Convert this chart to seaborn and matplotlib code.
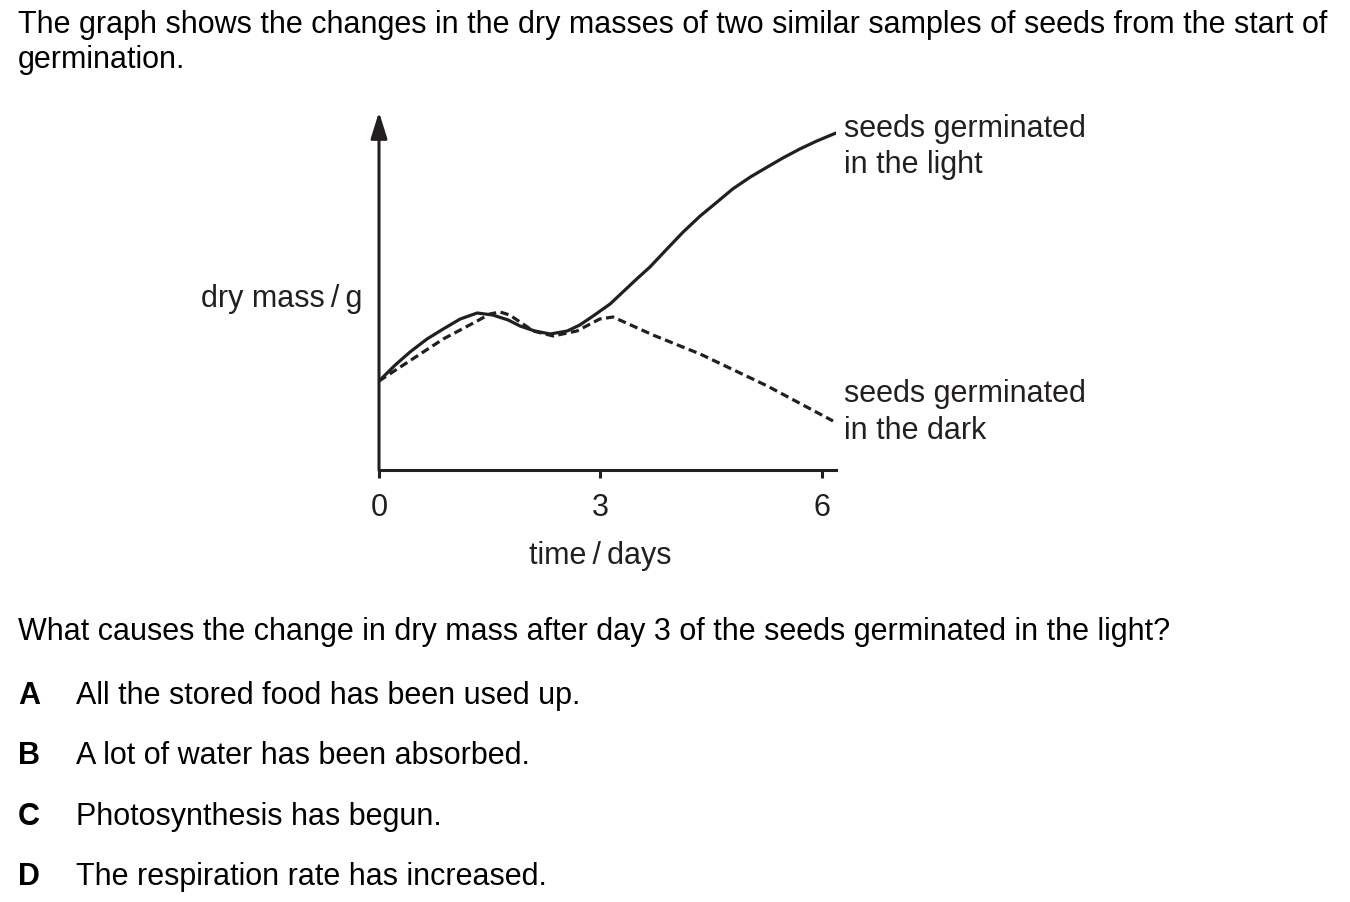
import pandas as pd
import matplotlib
matplotlib.use('Agg')
import matplotlib.pyplot as plt
import seaborn as sns

# Values (time in days, dry mass in arbitrary units)
light_days = [0, 0.22, 0.42, 0.65, 0.87, 1.10, 1.33, 1.54, 1.75, 1.91, 2.11, 2.32, 2.55,
              2.72, 2.90, 3.13, 3.49, 3.67, 3.90, 4.12, 4.35, 4.58, 4.79, 5.03, 5.26,
              5.47, 5.70, 5.93, 6.19]
light_mass = [8.9, 10.5, 11.8, 13.1, 14.1, 15.1, 15.7, 15.5, 15.0, 14.4, 13.9, 13.6, 13.9,
              14.5, 15.4, 16.6, 19.1, 20.3, 22.1, 23.8, 25.4, 26.8, 28.1, 29.3, 30.3,
              31.2, 32.1, 32.9, 33.7]

dark_days = [0, 0.33, 0.87, 1.33, 1.50, 1.64, 1.77, 1.91, 2.09, 2.36, 2.68, 2.99, 3.17,
             3.44, 3.71, 4.35, 5.26, 6.15]
dark_mass = [8.9, 10.5, 13.1, 14.9, 15.6, 15.8, 15.5, 14.8, 13.9, 13.4, 13.9, 15.1, 15.3,
             14.4, 13.5, 11.6, 8.4, 4.9]

x_ticks = [0, 3, 6]
x_tick_labels = ['0', '3', '6']

intro = ['The graph shows the changes in the dry masses of two similar samples of seeds from the start of',
         'germination.']
question = 'What causes the change in dry mass after day 3 of the seeds germinated in the light?'
option_letters = ['A', 'B', 'C', 'D']
option_texts = ['All the stored food has been used up.',
                'A lot of water has been absorbed.',
                'Photosynthesis has begun.',
                'The respiration rate has increased.']

light_df = pd.DataFrame({'day': light_days, 'mass': light_mass})
dark_df = pd.DataFrame({'day': dark_days, 'mass': dark_mass})

sns.set_style('white')
plt.rcParams['font.family'] = ['Liberation Sans', 'DejaVu Sans']

W, H = 1350, 903
ink = '#231f20'
fs = 22

fig = plt.figure(figsize=(13.5, 9.03), dpi=100)

def fx(px):
    return px / W

def fy(py):
    return 1 - py / H

# axes placed so that day 0 -> x=379 px, axis line ends at 836 px
ax = fig.add_axes([fx(379), fy(471), (836 - 379) / W, (471 - 113) / H])
ax.set_xlim(0, 6.19)
ax.set_ylim(0, 35.8)

sns.lineplot(data=light_df, x='day', y='mass', ax=ax, color=ink, lw=2.3, sort=False)
sns.lineplot(data=dark_df, x='day', y='mass', ax=ax, color=ink, lw=2.3, sort=False,
             linestyle=(0, (2.6, 1.4)))

for s in ['top', 'right', 'left']:
    ax.spines[s].set_visible(False)
ax.spines['bottom'].set_linewidth(2.2)
ax.spines['bottom'].set_color(ink)

ax.set_xticks(x_ticks)
ax.set_xticklabels(x_tick_labels, fontsize=fs, color=ink)
ax.set_yticks([])
ax.tick_params(axis='x', direction='out', length=6, width=2.2, color=ink, pad=10, bottom=True)
ax.set_xlabel('')
ax.set_ylabel('')

# y axis with arrow head
ax.annotate('', xy=(0, 35.8), xytext=(0, 0), xycoords='data',
            arrowprops=dict(arrowstyle='-|>,head_length=0.8,head_width=0.25', mutation_scale=20,
                            lw=2.2, color=ink, shrinkA=0, shrinkB=0),
            annotation_clip=False)

# texts
for i, line in enumerate(intro):
    fig.text(fx(18), fy(33 + 35 * i), line, fontsize=fs, color='black', va='baseline')

fig.text(fx(844), fy(137), 'seeds germinated', fontsize=fs, color=ink, va='baseline')
fig.text(fx(844), fy(173), 'in the light', fontsize=fs, color=ink, va='baseline')
fig.text(fx(844), fy(402), 'seeds germinated', fontsize=fs, color=ink, va='baseline')
fig.text(fx(844), fy(439), 'in the dark', fontsize=fs, color=ink, va='baseline')
fig.text(fx(362), fy(307), 'dry mass\u2009/\u2009g', fontsize=fs, color=ink, va='baseline', ha='right')
fig.text(fx(600), fy(564), 'time\u2009/\u2009days', fontsize=fs, color=ink, va='baseline', ha='center')

fig.text(fx(18), fy(640), question, fontsize=fs, color='black', va='baseline')
for i, (letter, txt) in enumerate(zip(option_letters, option_texts)):
    y = 704 + 60.5 * i
    fig.text(fx(18), fy(y), letter, fontsize=fs, color='black', va='baseline', fontweight='bold')
    fig.text(fx(76), fy(y), txt, fontsize=fs, color='black', va='baseline')

plt.savefig('out.png', dpi=100)
